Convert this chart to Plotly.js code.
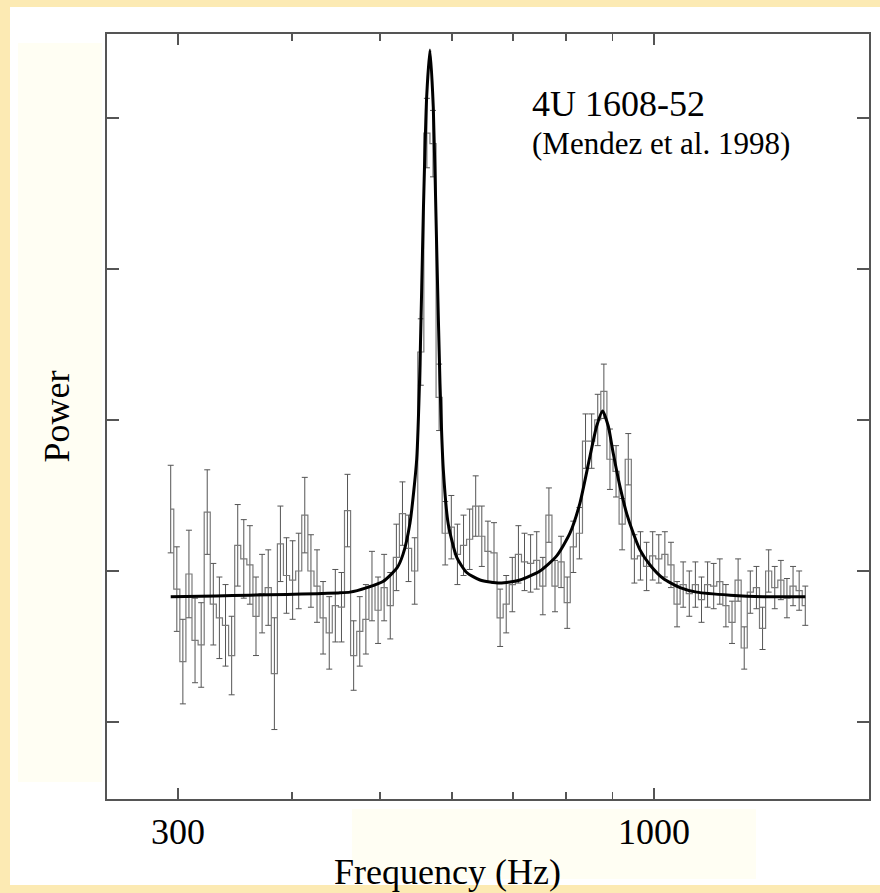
<!DOCTYPE html>
<html>
<head>
<meta charset="utf-8">
<script src="https://cdn.plot.ly/plotly-3.0.1.min.js"></script>
<style>
  html, body { margin: 0; padding: 0; background: #ffffff; }
  #chart { width: 880px; height: 893px; }
</style>
</head>
<body>
<div id="chart"></div>
<script>
// Bin centre frequencies (Hz)
const freq = [294.5,299.1,303.7,308.4,313.2,318.1,323.0,328.0,333.1,338.3,
  343.6,348.9,354.3,359.8,365.4,371.1,376.9,382.8,388.7,394.7,
  400.9,407.1,413.4,419.9,426.4,433.0,439.8,446.6,453.6,460.6,
  467.8,475.1,482.5,490.0,497.6,505.3,513.2,521.2,529.3,537.5,
  545.9,554.4,563.0,571.8,580.7,589.7,598.9,608.2,617.7,627.3,
  637.0,646.9,657.0,667.2,677.6,688.1,698.8,709.7,720.7,731.9,
  743.3,754.9,766.6,778.5,790.6,802.9,815.4,828.1,841.0,854.1,
  867.4,880.9,894.6,908.5,922.6,937.0,951.6,966.4,981.4,996.7,
  1012.2,1027.9,1043.9,1060.1,1076.6,1093.4,1110.4,1127.7,1145.2,1163.0,
  1181.1,1199.5,1218.2,1237.1,1256.4,1275.9,1295.8,1316.0,1336.5,1357.3,
  1378.4,1399.8,1421.6,1443.7,1466.2];

// Measured power per bin (arbitrary units)
const power = [2.41,1.88,1.40,1.98,1.54,1.51,2.39,1.78,1.69,1.64,
  1.44,2.17,2.08,2.04,1.70,1.85,1.89,1.32,2.18,1.97,
  1.94,2.00,2.37,2.00,1.90,1.69,1.59,1.77,1.76,2.40,
  1.44,1.60,1.68,1.90,1.74,1.89,1.77,2.09,2.38,2.15,
  2.00,3.45,4.90,4.83,3.15,2.25,2.29,2.11,2.17,2.21,
  2.43,2.23,2.13,2.12,1.69,1.78,1.91,2.11,2.06,2.05,
  2.07,1.90,2.37,1.90,2.06,1.79,2.16,2.25,2.86,2.86,
  3.00,3.19,2.74,2.66,2.31,2.74,2.08,2.10,2.03,2.10,
  2.08,2.11,2.04,1.78,1.91,1.85,1.91,1.81,1.91,1.90,
  1.93,1.77,1.66,1.94,1.49,1.86,1.89,1.62,2.00,1.89,
  1.94,1.82,1.90,1.87,1.77];

// 1-sigma errors per bin
const powerErr = [0.29,0.28,0.28,0.29,0.28,0.28,0.28,0.27,0.27,0.27,
  0.26,0.27,0.26,0.26,0.26,0.26,0.25,0.37,0.25,0.25,
  0.26,0.25,0.25,0.24,0.24,0.24,0.24,0.24,0.23,0.24,
  0.23,0.23,0.23,0.23,0.22,0.22,0.22,0.22,0.21,0.22,
  0.22,0.22,0.23,0.22,0.22,0.21,0.21,0.20,0.20,0.20,
  0.20,0.20,0.20,0.20,0.19,0.19,0.18,0.19,0.19,0.19,
  0.19,0.19,0.18,0.17,0.17,0.17,0.17,0.17,0.18,0.18,
  0.17,0.18,0.20,0.17,0.17,0.17,0.16,0.16,0.16,0.16,
  0.16,0.15,0.15,0.15,0.15,0.15,0.15,0.15,0.15,0.15,
  0.15,0.14,0.14,0.14,0.14,0.14,0.14,0.14,0.14,0.14,
  0.13,0.13,0.13,0.13,0.13];

// Fitted model curve (two Lorentzians + constant)
const fitFreq = [294.5,330.0,359.8,395.0,426.4,450.0,463.5,483.8,503.8,522.0,530.0,539.5,548.7,
  553.3,558.0,562.7,567.4,572.2,577.2,582.0,586.9,594.3,607.2,
  622.6,644.0,677.3,712.5,749.5,781.8,808.5,829.2,850.5,865.1,
  878.1,890.7,902.0,917.5,933.3,949.0,965.2,990.0,1023.8,1068.0,
  1114.0,1212.2,1318.7,1466.4];
const fitPower = [1.83,1.835,1.84,1.845,1.85,1.855,1.86,1.89,1.93,2.02,2.11,2.32,2.74,
  3.37,4.38,5.14,5.45,5.07,4.13,3.24,2.67,2.31,2.09,
  1.99,1.94,1.92,1.94,2.00,2.10,2.25,2.45,2.76,2.96,
  3.06,2.96,2.78,2.56,2.38,2.25,2.14,2.04,1.95,1.89,
  1.86,1.84,1.83,1.83];

const xTickVals = [300, 1000];
const xTickText = ['300', '1000'];
const xMinorVals = [400, 500, 600, 700, 800, 900];
const yTickVals = [1, 2, 3, 4, 5];

// ---- layout geometry (pixels) ----
const W = 880, H = 893;
const M = {l: 107, r: 11, t: 34, b: 94};
const PW = W - M.l - M.r, PH = H - M.t - M.b;
const px = x => (x - M.l) / PW;          // pixel x -> paper x
const py = y => (H - M.b - y) / PH;      // pixel y -> paper y

const serif = 'Liberation Serif';
const band = '#FCEAB3';
const ivory = '#FFFEF3';

const traces = [
  {
    x: freq, y: power, type: 'scatter', mode: 'lines',
    line: {shape: 'hvh', color: '#7a7a7a', width: 1.2},
    error_y: {type: 'data', array: powerErr, visible: true,
              color: '#555555', thickness: 1, width: 3},
    hoverinfo: 'x+y', showlegend: false
  },
  {
    x: fitFreq, y: fitPower, type: 'scatter', mode: 'lines',
    line: {shape: 'spline', smoothing: 0.6, color: '#000000', width: 3},
    showlegend: false
  }
];

const layout = {
  width: W, height: H,
  margin: M,
  paper_bgcolor: '#ffffff',
  plot_bgcolor: 'rgba(0,0,0,0)',
  showlegend: false,
  font: {family: serif, color: '#000000'},
  xaxis: {
    type: 'log',
    range: [2.3991, 3.2362],
    tickmode: 'array', tickvals: xTickVals, ticktext: xTickText,
    ticks: 'inside', ticklen: 11, tickwidth: 1.5, tickcolor: '#555555',
    minor: {tickmode: 'array', tickvals: xMinorVals, ticks: 'inside',
            ticklen: 7, tickwidth: 1.5, tickcolor: '#555555'},
    showline: true, linecolor: '#555555', linewidth: 2, mirror: 'allticks',
    showgrid: false, zeroline: false,
    tickfont: {family: serif, size: 36, color: '#000000'},
    ticklabelstandoff: 0
  },
  yaxis: {
    range: [0.49, 5.556],
    tickmode: 'array', tickvals: yTickVals, showticklabels: false,
    ticks: 'inside', ticklen: 12, tickwidth: 2, tickcolor: '#555555',
    showline: true, linecolor: '#555555', linewidth: 2, mirror: 'allticks',
    showgrid: false, zeroline: false,
    title: {text: 'Power', font: {family: serif, size: 36, color: '#000000'}, standoff: 24}
  },
  shapes: [
    // outer coloured bands
    {type: 'rect', xref: 'paper', yref: 'paper', layer: 'below',
     x0: px(-5), x1: px(W + 5), y0: py(7), y1: py(-5), fillcolor: band, line: {width: 0}},
    {type: 'rect', xref: 'paper', yref: 'paper', layer: 'below',
     x0: px(-5), x1: px(10), y0: py(H + 5), y1: py(-5), fillcolor: band, line: {width: 0}},
    {type: 'rect', xref: 'paper', yref: 'paper', layer: 'below',
     x0: px(-5), x1: px(W + 5), y0: py(H + 5), y1: py(885), fillcolor: band, line: {width: 0}},
    // faint ivory panels
    {type: 'rect', xref: 'paper', yref: 'paper', layer: 'below',
     x0: px(18), x1: px(102), y0: py(782), y1: py(43), fillcolor: ivory, line: {width: 0}},
    {type: 'rect', xref: 'paper', yref: 'paper', layer: 'below',
     x0: px(352), x1: px(756), y0: py(879), y1: py(809), fillcolor: ivory, line: {width: 0}}
  ],
  annotations: [
    {text: '4U 1608-52', xref: 'paper', yref: 'paper', x: px(530), y: py(104),
     xanchor: 'left', yanchor: 'middle', showarrow: false,
     font: {family: serif, size: 36, color: '#000000'}},
    {text: '(Mendez et al. 1998)', xref: 'paper', yref: 'paper', x: px(530), y: py(143),
     xanchor: 'left', yanchor: 'middle', showarrow: false,
     font: {family: serif, size: 31, color: '#000000'}},
    {text: 'Frequency (Hz)', xref: 'paper', yref: 'paper', x: px(447), y: py(872),
     xanchor: 'center', yanchor: 'middle', showarrow: false,
     font: {family: serif, size: 36, color: '#000000'}}
  ]
};

Plotly.newPlot('chart', traces, layout, {staticPlot: true, displayModeBar: false});
</script>
</body>
</html>
